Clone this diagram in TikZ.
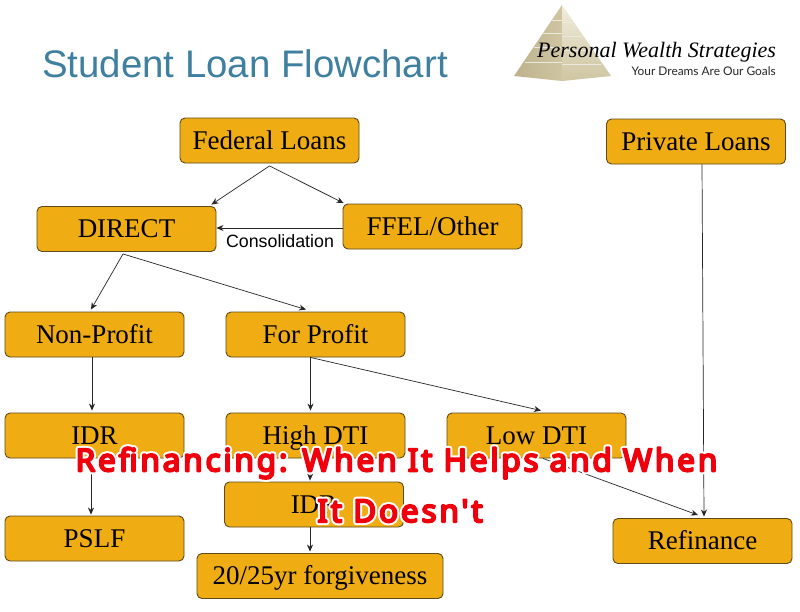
\documentclass[tikz,border=0pt]{standalone}
\usepackage{fontspec}
\setmainfont{Liberation Serif}
\newfontfamily\sansf{Liberation Sans}
\newfontfamily\tagf{Lato}
\newfontfamily\capf[LetterSpace=9]{Noto Sans}
\usetikzlibrary{arrows.meta,calc}
\definecolor{boxfill}{HTML}{EFAC13}
\definecolor{boxline}{HTML}{5C4A1C}
\definecolor{titleblue}{HTML}{3F7F9F}
\definecolor{pyrA}{HTML}{BDB28C}
\definecolor{pyrB}{HTML}{F1ECDD}
\definecolor{pyrC}{HTML}{CFC5A2}
\newcommand{\haloText}[1]{\special{pdf:code q 1 1 1 RG 1 1 1 rg 2 Tr 6 w 1 j}#1\special{pdf:code Q}}
\newcommand{\redText}[1]{\special{pdf:code q 0.94 0 0.05 RG 0.94 0 0.05 rg 2 Tr 2 w 1 j}#1\special{pdf:code Q}}
\newcommand{\capText}[1]{\rlap{\haloText{#1}}\redText{#1}}
\tikzset{
  x=1pt,y=-1pt,
  flow/.style={draw=boxline,line width=0.9pt,fill=boxfill,rounded corners=5pt,
    minimum width=179pt,minimum height=45pt,inner sep=0pt,text=black,
    text height=19pt,text depth=2pt,
    font=\fontsize{27}{29}\selectfont},
  link/.style={draw=black!85,line width=0.7pt,-{Stealth[length=7pt,width=6pt]}},
  bigcap/.style={font=\capf\fontsize{31.5}{33}\selectfont,inner sep=0pt},
  brick/.style={draw=white!70!pyrA,line width=0.4pt}
}
\begin{document}
\begin{tikzpicture}
\useasboundingbox (0,0) rectangle (800,611);
\fill[white] (0,0) rectangle (800,611);
% logo pyramid
\shade[left color=pyrA,right color=pyrC] (562,5) -- (514,76) -- (562,81) -- cycle;
\shade[top color=pyrB,bottom color=pyrC] (562,5) -- (611,76) -- (562,81) -- cycle;
\draw[brick] (552,20)--(562,20) (543,33)--(562,33) (534,47)--(562,47) (525,62)--(562,62)
  (562,22)--(572,22) (562,36)--(582,36) (562,50)--(591,50) (562,64)--(601,64);
\node[anchor=west,inner sep=0pt,font=\itshape\fontsize{22}{24}\selectfont] (brand) at (537,52.5) {Personal Wealth Strategies};
\node[anchor=east,inner sep=0pt,font=\tagf\fontsize{11.9}{15}\selectfont,text=black!85] (tag) at (776,71) {Your Dreams Are Our Goals};
% title
\node[anchor=west,inner sep=0pt,text=titleblue,font=\sansf\fontsize{38.4}{40}\selectfont] (title) at (42,64) {Student Loan Flowchart};
% boxes
\node[flow] (fed) at (269.5,140.5) {Federal Loans};
\node[flow] (direct) at (126.5,229) {DIRECT};
\node[flow] (ffel) at (432.5,226.5) {FFEL/Other};
\node[flow] (priv) at (696,141.5) {Private Loans};
\node[flow] (np) at (94.5,334.5) {Non-Profit};
\node[flow] (fp) at (315.5,334.5) {For Profit};
\node[flow] (idra) at (94.5,435.5) {IDR};
\node[flow] (high) at (315.5,435.5) {High DTI};
\node[flow] (low) at (536.5,435.5) {Low DTI};
\node[flow] (idrb) at (314,504.5) {IDR};
\node[flow] (pslf) at (94.5,538.5) {PSLF};
\node[flow,minimum width=246pt] (forg) at (320,576) {20/25yr forgiveness};
\node[flow] (refi) at (702.5,541) {Refinance};
% connectors
\draw[link] ([yshift=-2.5pt]fed.south) -- ([xshift=-5pt,yshift=1.5pt]direct.north east);
\draw[link] ([yshift=-2.5pt]fed.south) -- ([xshift=1pt,yshift=0.5pt]ffel.north west);
\draw[link] ([yshift=-1.5pt]ffel.west) -- ([yshift=1pt]direct.east);
\node[inner sep=0pt,font=\sansf\fontsize{17.8}{19}\selectfont] (cons) at (280,241) {Consolidation};
\draw[link] ([xshift=-3.5pt,yshift=-2pt]direct.south) -- ([xshift=-3.5pt,yshift=2pt]np.north);
\draw[link] ([xshift=-3.5pt,yshift=-2pt]direct.south) -- ([xshift=-9.5pt,yshift=2pt]fp.north);
\draw[link] ([xshift=-2.5pt]np.south) -- ([xshift=-2.5pt,yshift=2pt]idra.north);
\draw[link] ([xshift=-5pt]fp.south) -- ([xshift=-5pt,yshift=2pt]high.north);
\draw[link] ([xshift=-5pt]fp.south) -- ([xshift=4.5pt,yshift=2pt]low.north);
\draw[link] ([xshift=-3.5pt]idra.south) -- ([xshift=-3.5pt,yshift=1pt]pslf.north);
\draw[link] ([xshift=-5pt]high.south) -- ([xshift=-4pt,yshift=1pt]idrb.north);
\draw[link] ([xshift=-4pt]idrb.south) -- ([xshift=-10pt,yshift=1.5pt]forg.north);
\draw[link] ([xshift=6.5pt]low.south) -- ([xshift=-4.5pt,yshift=3pt]refi.north);
\draw[link] ([xshift=6pt]priv.south) -- ([xshift=1.5pt,yshift=1.5pt]refi.north);
% overlay caption
\node[bigcap] (cap1) at (396.5,463) {\capText{Refinancing: When It Helps and When}};
\node[bigcap] (cap2) at (400,511) {\capText{It Doesn't}};
\end{tikzpicture}
\end{document}
